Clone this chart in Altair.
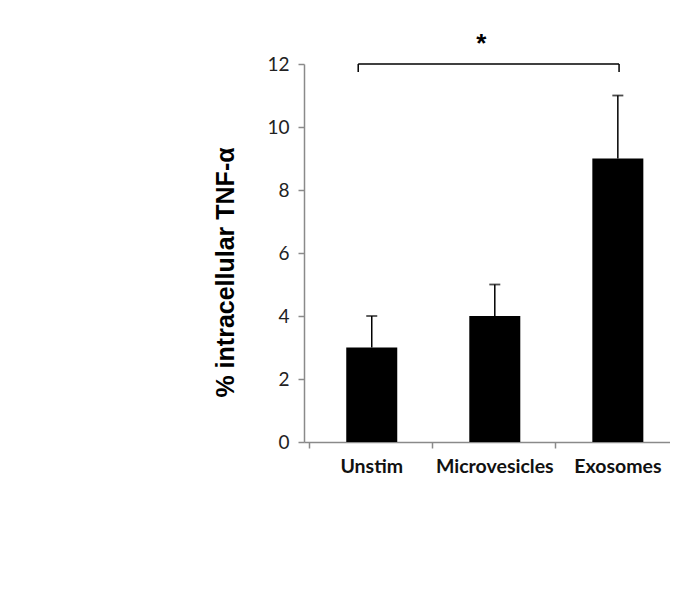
import altair as alt
import pandas as pd

categories = ["Unstim", "Microvesicles", "Exosomes"]
values = [3, 4, 9]
errors = [1, 1, 2]
y_ticks = [0, 2, 4, 6, 8, 10, 12]
y_title = "% intracellular TNF-α"

# significance annotation (in data units of the chart)
bracket_x = [0.40, 2.52]
bracket_y = [12.0, 11.75]
star_label = "*"
star_pos = [1.40, 12.65]

df = pd.DataFrame({"category": categories, "value": values, "error": errors})
df["pos"] = [i + 0.51 for i in range(len(categories))]
df["top"] = df["value"] + df["error"]
df["zero"] = 0

W = 366
xscale = alt.Scale(domain=[0, W / 126.5], nice=False, zero=False)
yscale = alt.Scale(domain=[0, 12], nice=False)

base = alt.Chart(df)

bars = base.mark_bar(color="black", size=51).encode(
    x=alt.X("pos:Q", scale=xscale,
            axis=alt.Axis(values=[0, 1, 2], labels=False, ticks=True, tickSize=6,
                          domainColor="#8a8a8a", tickColor="#8a8a8a", grid=False,
                          title=None, domainWidth=1.5, tickWidth=1.5)),
    y=alt.Y("value:Q", scale=yscale,
            axis=alt.Axis(values=y_ticks, grid=False, tickSize=6, labelPadding=9,
                          labelFont="Lato", labelFontSize=19, labelColor="#222",
                          domainColor="#8a8a8a", tickColor="#8a8a8a",
                          domainWidth=1.5, tickWidth=1.5,
                          title=y_title, titleFont="Liberation Sans",
                          titleFontSize=25, titleFontWeight="bold", titleColor="black",
                          titleX=-79, titleY=208, titleAngle=270,
                          titleAlign="center", titleBaseline="middle")),
)

err = base.mark_rule(color="black", strokeWidth=1.5).encode(
    x="pos:Q", y="value:Q", y2="top:Q")
caps = base.mark_tick(color="black", orient="horizontal", size=11, thickness=1.8).encode(
    x="pos:Q", y="top:Q")

labels = base.mark_text(font="Lato", fontWeight="bold", fontSize=19.5, baseline="middle",
                        dy=25, color="#111").encode(
    x="pos:Q", y="zero:Q", text="category:N")

bdf = pd.DataFrame({"x1": [bracket_x[0]], "x2": [bracket_x[1]], "y": [bracket_y[0]]})
bline = alt.Chart(bdf).mark_rule(color="black", strokeWidth=1.5).encode(
    x="x1:Q", x2="x2:Q", y="y:Q")
edf = pd.DataFrame({"x": bracket_x, "y": [bracket_y[0]] * 2, "y2": [bracket_y[1]] * 2})
bends = alt.Chart(edf).mark_rule(color="black", strokeWidth=1.5).encode(
    x="x:Q", y="y:Q", y2="y2:Q")
sdf = pd.DataFrame({"x": [star_pos[0]], "y": [star_pos[1]], "t": [star_label]})
star = alt.Chart(sdf).mark_text(font="Liberation Sans", fontWeight="bold", fontSize=26,
                                baseline="middle", color="black").encode(
    x="x:Q", y="y:Q", text="t:N")

chart = alt.layer(bars, err, caps, labels, bline, bends, star).properties(
    width=W, height=378,
    autosize=alt.AutoSizeParams(type="none"),
    padding={"left": 296, "top": 56, "right": 0, "bottom": 140},
).configure_view(stroke=None)

chart.save("out.html", embed_options={"renderer": "svg", "actions": False})
